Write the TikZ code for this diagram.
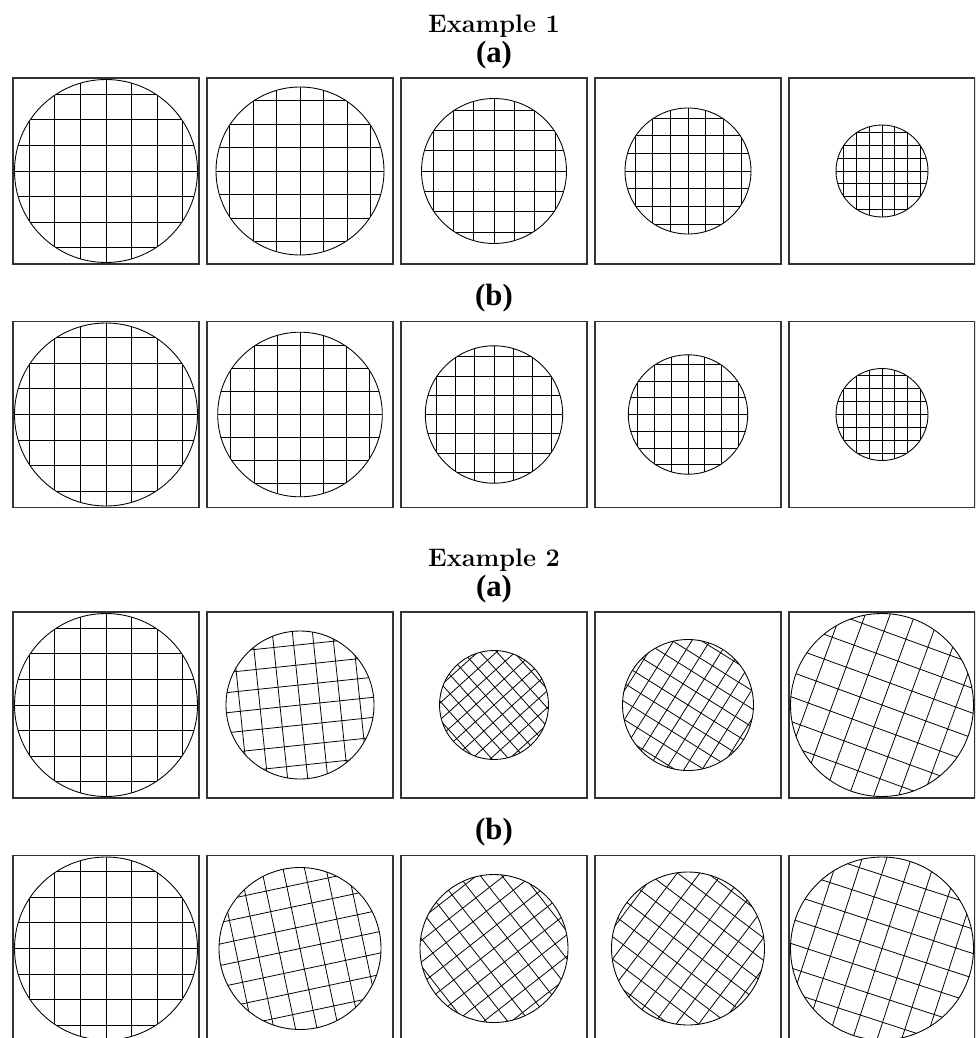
\documentclass[tikz,border=0pt]{standalone}
\usepackage{fontspec}
\usepackage{tikz}
\newfontfamily\partfont{Liberation Serif}[BoldFont={Liberation Serif Bold}]
\definecolor{boxgray}{HTML}{333333}
% one panel: centre x, centre y, circle radius, grid angle, grid step / radius
\newcommand{\gridpanel}[5]{%
  \draw[panelbox] (#1-93,#2-93) rectangle (#1+93,#2+93);
  \begin{scope}[shift={(#1,#2)},rotate=#4]
    \clip (0,0) circle (#3);
    \foreach \k in {-4,...,4} {
      \draw[gridline] (\k*#5*#3,-#3) -- (\k*#5*#3,#3);
      \draw[gridline] (-#3,\k*#5*#3) -- (#3,\k*#5*#3);
    }
  \end{scope}
  \draw[rim] (#1,#2) circle (#3);
}

\begin{document}
\begin{tikzpicture}[x=0.02cm,y=0.02cm,
  panelbox/.style={draw=boxgray,line width=0.75pt},
  rim/.style={draw=black,line width=0.5pt},
  gridline/.style={draw=black,line width=0.45pt},
  extitle/.style={anchor=base,font=\fontsize{14.4}{17}\selectfont\bfseries},
  parttitle/.style={anchor=base,font=\partfont\fontsize{17.5}{20}\selectfont\bfseries}]
  \useasboundingbox (0,0) rectangle (975,-1038);
  \clip (0,0) rectangle (975,-1038);

  \node[extitle] (ex1) at (494,-32) {Example 1};
  \node[parttitle] (ex1a) at (494,-62) {(a)};
  \foreach \r/\a [count=\i from 0] in {91.5/0,84/0,72.5/0,63/0,46/0}
    \gridpanel{106+194*\i}{-171}{\r}{\a}{0.28};

  \node[parttitle] (ex1b) at (494,-305) {(b)};
  \foreach \r/\a [count=\i from 0] in {91.5/0,82.3/0,68.7/0,59.7/0,46/0}
    \gridpanel{106+194*\i}{-414.5}{\r}{\a}{0.28};

  \node[extitle] (ex2) at (494,-566) {Example 2};
  \node[parttitle] (ex2a) at (494,-596) {(a)};
  \foreach \r/\a/\s [count=\i from 0] in {91.5/0/0.28,74/6/0.27,54.5/42/0.23,65.5/-32/0.235,91.5/-20/0.255}
    \gridpanel{106+194*\i}{-705}{\r}{\a}{\s};

  \node[parttitle] (ex2b) at (494,-839) {(b)};
  \foreach \r/\a/\s [count=\i from 0] in {91.5/0/0.28,81/12/0.26,74/38/0.23,76.5/-37/0.235,91.5/-18/0.255}
    \gridpanel{106+194*\i}{-948.5}{\r}{\a}{\s};
\end{tikzpicture}
\end{document}
